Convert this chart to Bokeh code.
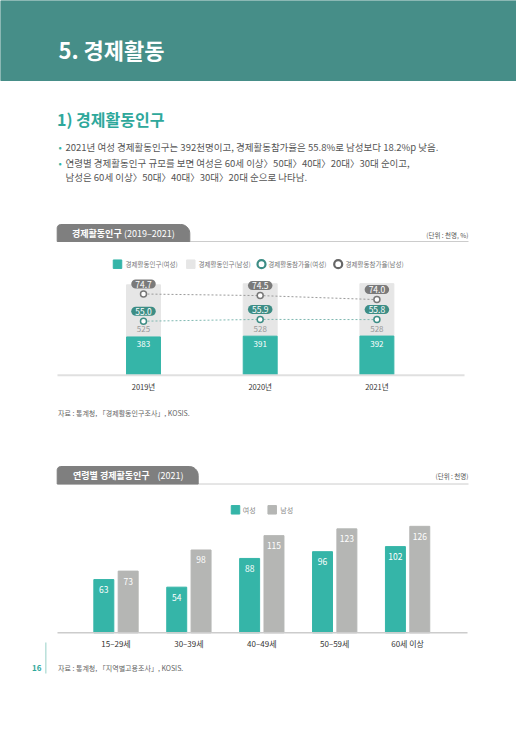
import numpy as np
from bokeh.plotting import figure
from bokeh.models import Range1d
from bokeh.core.properties import value
from bokeh.embed import file_html
from bokeh.resources import INLINE

# 경제활동인구 (2019-2021), 천명 / %
years = ["2019년", "2020년", "2021년"]
pop_female = [383, 391, 392]
pop_male = [525, 528, 528]
rate_female = [55.0, 55.9, 55.8]
rate_male = [74.7, 74.5, 74.0]

# 연령별 경제활동인구 (2021), 천명
ages = ["15–29세", "30–39세", "40–49세", "50–59세", "60세 이상"]
age_female = [63, 54, 88, 96, 102]
age_male = [73, 98, 115, 123, 126]

bullets = [
    "2021년 여성 경제활동인구는 392천명이고, 경제활동참가율은 55.8%로 남성보다 18.2%p 낮음.",
    "연령별 경제활동인구 규모를 보면 여성은 60세 이상〉50대〉40대〉20대〉30대 순이고,",
    "남성은 60세 이상〉50대〉40대〉30대〉20대 순으로 나타남.",
]

FONT = value("Noto Sans CJK KR")
TEAL = "#35b5a8"
DARK_TEAL = "#3d8d85"
W, H = 516, 721


def xspan(p0, k, v0=0.0):
    return Range1d(start=v0 - p0 / k, end=v0 + (W - p0) / k)


def yspan(p0, k, v0=0.0):
    return Range1d(start=v0 - (H - p0) / k, end=v0 + p0 / k)


def txt(x, y, s, size, color, align="left", style="normal"):
    p.text(x=[x], y=[y], text=[s], text_font=FONT, text_font_size=f"{size}px",
           text_color=color, text_align=align, text_baseline="middle",
           text_font_style=style)


def tab(x0, x1, y0, y1, r1=3.5, r2=9):
    t = np.linspace(0, np.pi / 2, 12)
    xs = [x0] + list(x0 + r1 - r1 * np.cos(t)) + list(x1 - r2 + r2 * np.sin(t)) + [x1]
    ys = [y1] + list(y0 + r1 - r1 * np.sin(t)) + list(y0 + r2 - r2 * np.cos(t)) + [y1]
    p.patch(xs, ys, color="#7f7f7f")


p = figure(width=W, height=H, x_range=Range1d(0, W), y_range=Range1d(H, 0),
           output_backend="svg", toolbar_location=None, min_border=0,
           x_axis_location=None, y_axis_location=None)
p.grid.visible = False
p.outline_line_color = None

p.extra_x_ranges = {"yr": xspan(143, 116.7), "age": xspan(115.5, 72.9)}
p.extra_y_ranges = {
    "pop": yspan(374.5, 0.0993),
    "rm": yspan(293.5, 8.0, 74.7),
    "rf": yspan(320.7, 2.0, 55.0),
    "cnt": yspan(632.3, 0.845),
}

# header
p.quad(left=0, right=W, top=0, bottom=80, color="#468e88")
txt(58, 48, "5. 경제활동", 22, "white", style="bold")
txt(56.5, 118, "1) 경제활동인구", 16, "#2ea89b", style="bold")
for i, line in enumerate(bullets):
    y = [146, 162.5, 176.7][i]
    if i < 2:
        txt(58, y, "•", 9.5, TEAL)
    txt(65, y, line, 9.5, "#555555")

# ---- chart 1 ----
p.line([57, 468], [241, 241], color="#cccccc", line_width=1)
tab(56.7, 189.3, 224, 241)
txt(71.5, 233, "경제활동인구", 9, "white", style="bold")
txt(123.5, 233, "(2019–2021)", 9, "white")
txt(468, 234, "(단위 : 천명, %)", 6.5, "#555555", align="right")

# legend
lg_y = 263.7
p.rect([117, 190.3], [lg_y, lg_y], width=8.5, height=8.5, color=[TEAL, "#e6e6e6"])
p.scatter([261, 337.7], [lg_y, lg_y], size=8, fill_color="white",
          line_color=[DARK_TEAL, "#666666"], line_width=2.2)
for x, s in [(125, "경제활동인구(여성)"), (198, "경제활동인구(남성)"),
             (267.7, "경제활동참가율(여성)"), (345, "경제활동참가율(남성)")]:
    txt(x, lg_y, s, 6.5, "#777777")

idx = list(range(len(years)))
tot = [f + m for f, m in zip(pop_female, pop_male)]
p.vbar(x=idx, bottom=pop_female, top=tot, width=0.291, color="#e6e6e6",
       x_range_name="yr", y_range_name="pop")
p.vbar(x=idx, bottom=0, top=pop_female, width=0.291, color=TEAL,
       x_range_name="yr", y_range_name="pop")
p.line([57, 464], [374.7, 374.7], color="#e0e0e0", line_width=2)

common = dict(text_font=FONT, text_align="center", text_baseline="middle",
              x_range_name="yr")
p.text(idx, pop_female, text=[str(v) for v in pop_male], y_offset=-7.5,
       text_font_size="8px", text_color="#999999", y_range_name="pop", **common)
p.text(idx, pop_female, text=[str(v) for v in pop_female], y_offset=7.5,
       text_font_size="8px", text_color="white", y_range_name="pop", **common)
p.text(idx, [0] * 3, text=years, y_offset=11, text_font_size="7.5px",
       text_color="#333333", y_range_name="pop", **common)

p.line(idx, rate_male, color="#9a9a9a", line_dash="2 2", line_width=1,
       x_range_name="yr", y_range_name="rm")
p.line(idx, rate_female, color="#7fb8b1", line_dash="2 2", line_width=1,
       x_range_name="yr", y_range_name="rf")
p.scatter(idx, rate_male, size=6, fill_color="white", line_color="#777777",
          line_width=1.5, x_range_name="yr", y_range_name="rm")
p.scatter(idx, rate_female, size=6, fill_color="white", line_color=DARK_TEAL,
          line_width=1.5, x_range_name="yr", y_range_name="rf")
pill = dict(text_font_size="8.5px", text_color="white", border_radius=5,
            padding=(4, 1), **common)
p.text(idx, rate_male, text=[f"{v:.1f}" for v in rate_male], y_offset=-10,
       y_range_name="rm", background_fill_color="#7a7a7a", **pill)
p.text(idx, rate_female, text=[f"{v:.1f}" for v in rate_female], y_offset=-10,
       y_range_name="rf", background_fill_color=DARK_TEAL, **pill)

txt(57.5, 412.7, "자료 : 통계청, 「경제활동인구조사」, KOSIS.", 7, "#666666")

# ---- chart 2 ----
p.line([57, 468], [483.5, 483.5], color="#cccccc", line_width=1)
tab(56.7, 197.7, 466, 483.5)
txt(72.5, 475, "연령별 경제활동인구", 9, "white", style="bold")
txt(157, 475, "(2021)", 9, "white")
txt(468, 475, "(단위 : 천명)", 6.5, "#555555", align="right")

lg2 = 509.3
p.rect([235, 271.7], [lg2, lg2], width=8.5, height=8.5, color=[TEAL, "#b5b6b4"])
txt(242.3, lg2, "여성", 7, "#888888")
txt(279.7, lg2, "남성", 7, "#888888")

gi = list(range(len(ages)))
xf = [i - 0.167 for i in gi]
xm = [i + 0.167 for i in gi]
p.vbar(x=xf, top=age_female, width=0.274, color=TEAL,
       x_range_name="age", y_range_name="cnt")
p.vbar(x=xm, top=age_male, width=0.274, color="#b5b6b4",
       x_range_name="age", y_range_name="cnt")
p.line([57, 467], [632.3, 632.3], color="#cccccc", line_width=1.5)

c2 = dict(text_font=FONT, text_align="center", text_baseline="middle",
          x_range_name="age", y_range_name="cnt")
p.text(xf, age_female, text=[str(v) for v in age_female], y_offset=10,
       text_font_size="8.5px", text_color="white", **c2)
p.text(xm, age_male, text=[str(v) for v in age_male], y_offset=10,
       text_font_size="8.5px", text_color="white", **c2)
p.text(gi, [0] * len(ages), text=ages, y_offset=10.5, text_font_size="8px",
       text_color="#333333", **c2)

# footer
p.line([45.3, 45.3], [642, 673], color="#b9e0da", line_width=1.5)
txt(41, 667, "16", 8, "#2ea89b", align="right", style="bold")
txt(57.5, 667, "자료 : 통계청, 「지역별고용조사」, KOSIS.", 7, "#666666")

open("out.html", "w").write(file_html(p, INLINE))
